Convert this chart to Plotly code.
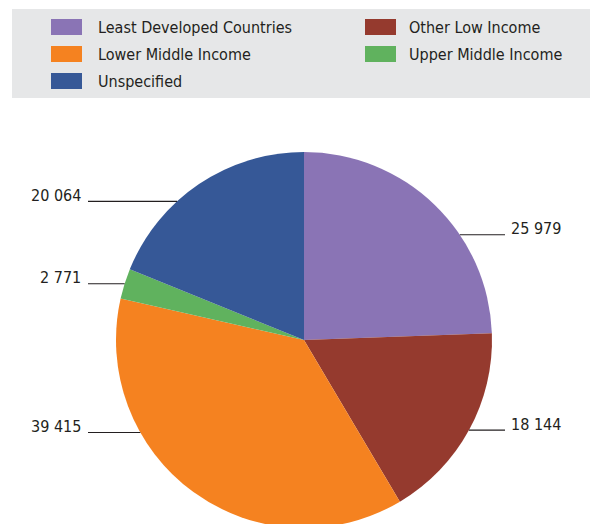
import math
import plotly.graph_objects as go

categories = ["Least Developed Countries", "Other Low Income", "Lower Middle Income",
              "Upper Middle Income", "Unspecified"]
values = [25979, 18144, 39415, 2771, 20064]
value_labels = ["25 979", "18 144", "39 415", "2 771", "20 064"]
colors = ["#8a74b5", "#953a2e", "#f58220", "#60b25e", "#365897"]

legend_order = [0, 1, 2, 3, 4]

# The page body adds an 8px offset; work in page pixels and convert.
OFF = 8
W, H = 598, 530
FONT = "DejaVu Sans Condensed, Liberation Sans Narrow, Arial Narrow, sans-serif"
TXT = "#231f20"
FS = 16

def px(x):
    return (x - OFF) / W

def py(y):
    return 1 - (y - OFF) / H

# pie geometry in page pixels
cx, cy, r = 304, 340, 188
dom_x = [px(cx - r), px(cx + r)]
dom_y = [py(cy + r), py(cy - r)]

fig = go.Figure()
fig.add_trace(go.Pie(
    values=values, labels=categories,
    marker=dict(colors=colors, line=dict(width=0)),
    sort=False, direction="clockwise", rotation=0,
    textinfo="none", hoverinfo="label+value",
    domain=dict(x=dom_x, y=dom_y), showlegend=False,
))

shapes = []
annotations = []

# legend box
shapes.append(dict(type="rect", xref="paper", yref="paper",
                   x0=px(12), x1=px(595), y0=py(98), y1=py(9),
                   fillcolor="#e6e7e8", line=dict(width=0), layer="below"))
col_sw = [51, 365]
col_tx = [96, 407]
row_y = [27, 54, 81]
for k, idx in enumerate(legend_order):
    row, col = divmod(k, 2)
    yc = row_y[row]
    shapes.append(dict(type="rect", xref="paper", yref="paper",
                       x0=px(col_sw[col]), x1=px(col_sw[col] + 31),
                       y0=py(yc + 8), y1=py(yc - 8),
                       fillcolor=colors[idx], line=dict(width=0)))
    annotations.append(dict(xref="paper", yref="paper", x=px(col_tx[col]), y=py(yc + 1),
                            text=categories[idx], showarrow=False,
                            xanchor="left", yanchor="middle",
                            font=dict(family=FONT, size=FS, color=TXT)))

# value labels with horizontal leader lines
label_nudge_deg = [12, 0, 24.5, 0, -8.5]
total = sum(values)
start = 0.0
for i, v in enumerate(values):
    frac = v / total
    mid = (start + frac / 2) * 360 + label_nudge_deg[i]
    start += frac
    a = math.radians(mid)
    dy = -r * math.cos(a)
    yl = cy + dy
    edge = math.sqrt(max(r * r - dy * dy, 0))
    if math.sin(a) >= 0:
        x_edge = cx + edge
        x_end = 505
        tx, anchor = 509, "left"
    else:
        x_edge = cx - edge
        x_end = 88
        tx, anchor = 83, "right"
    shapes.append(dict(type="line", xref="paper", yref="paper",
                       x0=px(x_edge), x1=px(x_end), y0=py(yl), y1=py(yl),
                       line=dict(color="#231f20", width=1.2)))
    annotations.append(dict(xref="paper", yref="paper", x=px(tx), y=py(yl - 6),
                            text=value_labels[i], showarrow=False,
                            xanchor=anchor, yanchor="middle",
                            font=dict(family=FONT, size=FS, color=TXT)))

fig.update_layout(
    width=W, height=H,
    margin=dict(l=0, r=0, t=0, b=0),
    paper_bgcolor="white", plot_bgcolor="white",
    shapes=shapes, annotations=annotations,
    showlegend=False,
)

fig.write_html("out.html")
